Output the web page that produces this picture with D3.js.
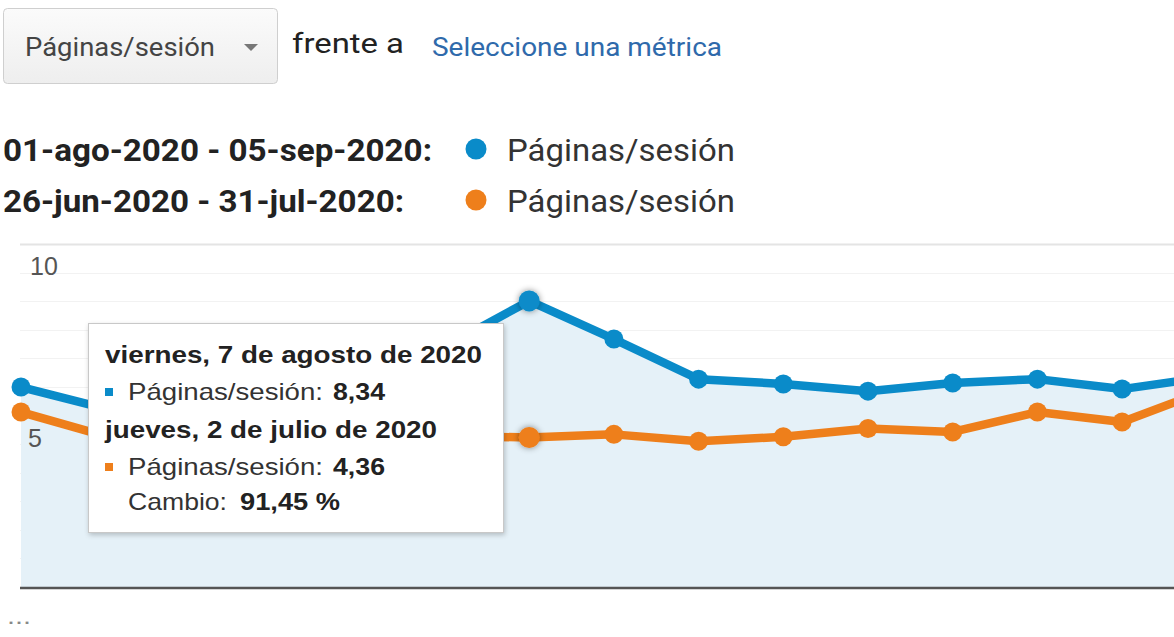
<!DOCTYPE html>
<html><head><meta charset="utf-8">
<script src="https://cdn.jsdelivr.net/npm/d3@7"></script>
<style>html,body{margin:0;padding:0;background:#fff;overflow:hidden}</style>
</head><body>
<svg id="c" width="1174" height="637"></svg>
<script>
// ---- data ----
const currentDates = ["01-ago","02-ago","03-ago","04-ago","05-ago","06-ago","07-ago","08-ago","09-ago","10-ago","11-ago","12-ago","13-ago","14-ago","15-ago"];
const previousDates = ["26-jun","27-jun","28-jun","29-jun","30-jun","01-jul","02-jul","03-jul","04-jul","05-jul","06-jul","07-jul","08-jul","09-jul","10-jul"];
const pagesCurrent  = [5.83, 5.20, 5.50, 6.10, 6.50, 7.00, 8.34, 7.23, 6.06, 5.92, 5.71, 5.95, 6.06, 5.77, 6.12];
const pagesPrevious = [5.10, 4.40, 4.60, 4.50, 4.70, 4.40, 4.36, 4.45, 4.25, 4.38, 4.62, 4.52, 5.10, 4.81, 5.74];
const yTickLabels = [10, 5];
const gridValues = d3.range(0, 10.0001, 10/12);
const legendRanges = ["01-ago-2020 - 05-sep-2020:", "26-jun-2020 - 31-jul-2020:"];
const tooltipDates = ["viernes, 7 de agosto de 2020", "jueves, 2 de julio de 2020"];
const changePct = 91.45;
const metricName = "Páginas/sesión";
const hoverIndex = 6;

const svg = d3.select("#c");
const blue = "#0a8bc9", orange = "#ee7f1b";

const defs = svg.append("defs");
const sh = defs.append("filter").attr("id","sh").attr("x","-10%").attr("y","-10%").attr("width","130%").attr("height","130%");
sh.append("feDropShadow").attr("dx",1).attr("dy",2).attr("stdDeviation",2.5).attr("flood-color","#000").attr("flood-opacity",0.22);
const glow = defs.append("filter").attr("id","glow").attr("x","-100%").attr("y","-100%").attr("width","300%").attr("height","300%");
glow.append("feDropShadow").attr("dx",0).attr("dy",0).attr("stdDeviation",3).attr("flood-color","#000").attr("flood-opacity",0.45);
const grad = defs.append("linearGradient").attr("id","btn").attr("x1",0).attr("y1",0).attr("x2",0).attr("y2",1);
grad.append("stop").attr("offset","0").attr("stop-color","#fbfbfb");
grad.append("stop").attr("offset","1").attr("stop-color","#eeeeee");

// ---- top controls ----
svg.append("rect").attr("x",3.5).attr("y",8.5).attr("width",274).attr("height",75).attr("rx",4)
  .attr("fill","url(#btn)").attr("stroke","#cfcfcf");
function txt(s, x, y, size, opts={}) {
  const t = svg.append("text").attr("x",x).attr("y",y).text(s)
    .attr("font-family", opts.family || "Roboto")
    .attr("font-size", size).attr("font-weight", opts.weight || 400)
    .attr("fill", opts.fill || "#333");
  if (opts.len) t.attr("textLength", opts.len).attr("lengthAdjust","spacingAndGlyphs");
  if (opts.anchor) t.attr("text-anchor", opts.anchor);
  return t;
}
txt(metricName, 25, 56, 26, {fill:"#444", len:190});
svg.append("path").attr("d","M244,44 L258,44 L251,51 Z").attr("fill","#777");
txt("frente a", 292, 53, 28, {fill:"#222", len:112});
txt("Seleccione una métrica", 432, 56, 25, {fill:"#2f6aab", len:290});

// ---- legend ----
const legendColors = [blue, orange];
const legendY = [161, 212];
const legendLens = [429, 401];
legendRanges.forEach((r,i) => {
  txt(r, 3, legendY[i], 31, {weight:700, fill:"#222", len:legendLens[i]});
  svg.append("circle").attr("cx",476).attr("cy",legendY[i]-12).attr("r",10.5).attr("fill",legendColors[i]);
  txt(metricName, 507, legendY[i], 31, {fill:"#333", len:228});
});

// ---- chart ----
const y = d3.scaleLinear().domain([0,10]).range([587,244]);
const x = d3.scaleLinear().domain([0,14]).range([21, 21 + 14*84.7]);
const plotLeft = 20, plotRight = 1174;

const g = svg.append("g");
g.selectAll("line.grid").data(gridValues.slice(1)).join("line")
  .attr("x1",plotLeft).attr("x2",plotRight)
  .attr("y1",d=>Math.round(y(d))+0.5).attr("y2",d=>Math.round(y(d))+0.5)
  .attr("stroke",(d,i)=> i===gridValues.length-2 ? "#e4e4e4" : "#f2f2f2").attr("stroke-width",(d,i)=> i===gridValues.length-2 ? 2 : 1);

// area under current series
const area = d3.area().x((d,i)=>x(i)).y0(y(0)).y1(d=>y(d));
g.append("path").datum(pagesCurrent).attr("d",area).attr("fill","#e5f1f8");

// y labels
g.selectAll("text.yl").data(yTickLabels).join("text")
  .attr("x", d => d===10 ? 30 : 28).attr("y", d=>y(d)+31)
  .attr("font-family","Liberation Sans").attr("font-size",25).attr("fill","#555")
  .text(d=>d);

// lines
const line = d3.line().x((d,i)=>x(i)).y(d=>y(d));
[[pagesPrevious, orange],[pagesCurrent, blue]].forEach(([data,col])=>{
  g.append("path").datum(data).attr("d",line).attr("fill","none")
    .attr("stroke",col).attr("stroke-width",8.5).attr("stroke-linejoin","round");
  g.selectAll(null).data(data).join("circle")
    .attr("cx",(d,i)=>x(i)).attr("cy",d=>y(d))
    .attr("r",(d,i)=> i===hoverIndex ? 10.5 : 9.5)
    .attr("fill",col)
    .attr("filter",(d,i)=> i===hoverIndex ? "url(#glow)" : null);
});

// baseline
g.append("line").attr("x1",plotLeft).attr("x2",plotRight).attr("y1",y(0)+1).attr("y2",y(0)+1)
  .attr("stroke","#555").attr("stroke-width",2.5);

// ellipsis
txt("...", 7, 624, 22, {family:"Liberation Sans", fill:"#888", len:24});

// ---- tooltip ----
const tt = svg.append("g");
tt.append("rect").attr("x",88.5).attr("y",323.5).attr("width",415).attr("height",209)
  .attr("fill","#fff").attr("stroke","#c8c8c8").attr("filter","url(#sh)");
const tf = "Liberation Sans";
const fmt = v => v.toFixed(2).replace(".", ",");
txt(tooltipDates[0], 105, 363, 24, {family:tf, weight:700, fill:"#222", len:377});
svg.append("rect").attr("x",105).attr("y",388).attr("width",8).attr("height",8).attr("fill",blue);
txt(metricName + ":", 128, 400, 24, {family:tf, fill:"#333", len:195});
txt(fmt(pagesCurrent[hoverIndex]), 333, 400, 24, {family:tf, weight:700, fill:"#222", len:52});
txt(tooltipDates[1], 105, 438, 24, {family:tf, weight:700, fill:"#222", len:332});
svg.append("rect").attr("x",105).attr("y",463).attr("width",8).attr("height",8).attr("fill",orange);
txt(metricName + ":", 128, 475, 24, {family:tf, fill:"#333", len:195});
txt(fmt(pagesPrevious[hoverIndex]), 333, 475, 24, {family:tf, weight:700, fill:"#222", len:52});
txt("Cambio:", 128, 510, 24, {family:tf, fill:"#333", len:99});
txt(fmt(changePct) + " %", 240, 510, 24, {family:tf, weight:700, fill:"#222", len:100});
</script>
</body></html>
